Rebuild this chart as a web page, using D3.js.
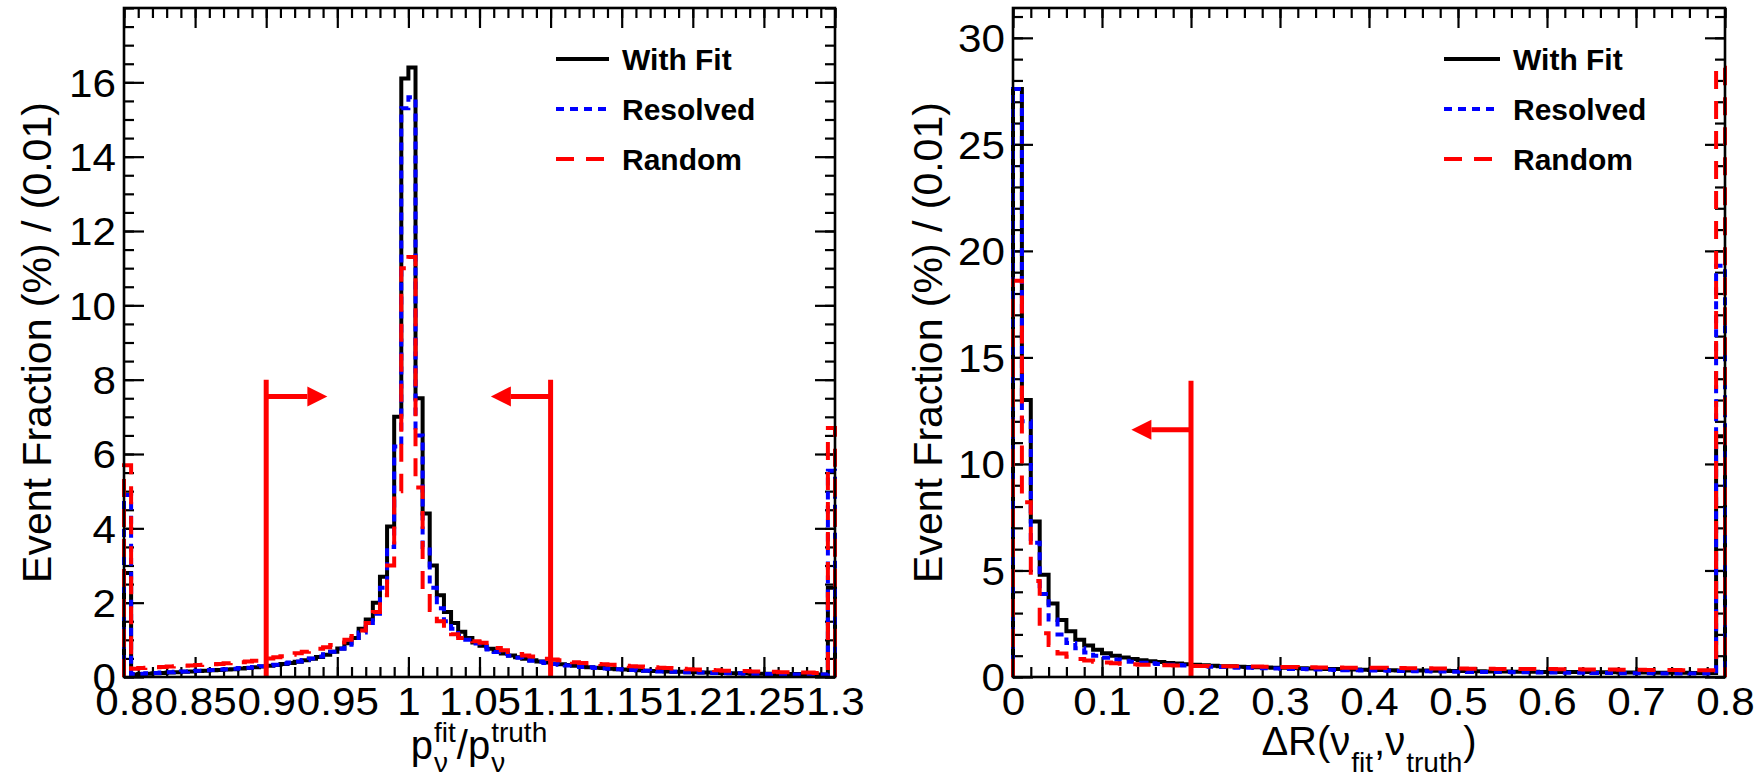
<!DOCTYPE html>
<html><head><meta charset="utf-8">
<script src="https://cdn.jsdelivr.net/npm/d3@7"></script>
<style>body{margin:0;background:#fff} svg{display:block}</style>
</head><body><svg id="c" width="1760" height="780"></svg>
<script>
// ---------------- DATA ----------------
// Left panel: p_fit / p_truth, bins of 0.005 from 0.8 to 1.3
const leftBinLow = 0.8, leftBinWidth = 0.005;
const leftWithFit = [2.8,0.07,0.08,0.09,0.10,0.11,0.12,0.13,0.14,0.15,
 0.16,0.17,0.18,0.19,0.20,0.21,0.23,0.24,0.26,0.28,
 0.30,0.32,0.35,0.38,0.41,0.45,0.49,0.54,0.60,0.68,
 0.77,0.91,1.05,1.30,1.55,2.0,2.7,4.05,7.0,16.1,
 16.4,7.5,4.4,3.0,2.2,1.75,1.45,1.22,1.05,0.93,
 0.84,0.76,0.69,0.63,0.58,0.53,0.49,0.45,0.42,0.39,
 0.36,0.34,0.32,0.30,0.28,0.26,0.25,0.24,0.22,0.21,
 0.20,0.19,0.18,0.17,0.16,0.16,0.15,0.14,0.14,0.13,
 0.13,0.12,0.12,0.11,0.11,0.10,0.10,0.10,0.09,0.09,
 0.09,0.08,0.08,0.08,0.08,0.07,0.07,0.07,0.07,2.4];
const leftResolved = [4.9,0.08,0.09,0.10,0.11,0.12,0.13,0.14,0.15,0.16,
 0.17,0.18,0.19,0.20,0.21,0.22,0.24,0.25,0.27,0.29,
 0.31,0.33,0.36,0.39,0.42,0.46,0.50,0.55,0.61,0.68,
 0.76,0.87,0.98,1.20,1.45,1.70,2.40,3.50,6.20,15.3,
 15.6,6.5,3.5,2.4,1.85,1.5,1.3,1.1,1.0,0.9,
 0.81,0.74,0.67,0.62,0.57,0.52,0.48,0.44,0.41,0.38,
 0.35,0.33,0.31,0.29,0.27,0.26,0.24,0.23,0.22,0.21,
 0.20,0.19,0.18,0.17,0.16,0.15,0.15,0.14,0.13,0.13,
 0.12,0.12,0.11,0.11,0.10,0.10,0.10,0.09,0.09,0.09,
 0.08,0.08,0.08,0.08,0.07,0.07,0.07,0.07,0.07,5.55];
const leftRandom = [5.7,0.22,0.24,0.25,0.26,0.27,0.28,0.29,0.30,0.31,
 0.32,0.33,0.34,0.35,0.37,0.38,0.40,0.42,0.44,0.47,
 0.50,0.53,0.56,0.60,0.64,0.68,0.72,0.76,0.80,0.86,
 0.93,1.0,1.1,1.25,1.45,1.75,2.2,3.0,5.0,11.0,
 11.3,5.1,2.35,1.8,1.5,1.3,1.15,1.05,1.0,0.96,
 0.92,0.85,0.78,0.72,0.67,0.62,0.58,0.55,0.52,0.49,
 0.47,0.45,0.43,0.40,0.38,0.37,0.35,0.34,0.33,0.32,
 0.30,0.29,0.28,0.27,0.26,0.25,0.24,0.23,0.22,0.21,
 0.20,0.19,0.19,0.18,0.17,0.17,0.16,0.16,0.15,0.15,
 0.14,0.14,0.13,0.13,0.12,0.12,0.12,0.11,0.11,6.7];
const leftXTicks = [0.8,0.85,0.9,0.95,1.0,1.05,1.1,1.15,1.2,1.25,1.3];
const leftXLabels = ["0.8","0.85","0.9","0.95","1","1.05","1.1","1.15","1.2","1.25","1.3"];
const leftYTicks = [0,2,4,6,8,10,12,14,16];
const leftYLabels = ["0","2","4","6","8","10","12","14","16"];
const leftCuts = [0.9, 1.1];          // cut positions
const leftCutTop = 8.0, leftArrowY = 7.55, leftArrowTips = [0.943, 1.058];

// Right panel: DeltaR(nu_fit, nu_truth), bins of 0.01 from 0 to 0.8
const rightBinLow = 0, rightBinWidth = 0.01;
const rightWithFit = [27.6,13.0,7.3,4.8,3.45,2.68,2.15,1.75,1.48,1.28,
 1.12,1.0,0.92,0.85,0.79,0.74,0.70,0.66,0.63,0.60,
 0.57,0.55,0.53,0.51,0.50,0.48,0.47,0.46,0.45,0.44,
 0.43,0.42,0.41,0.40,0.39,0.38,0.37,0.36,0.35,0.34,
 0.33,0.33,0.32,0.31,0.31,0.30,0.30,0.29,0.29,0.28,
 0.28,0.27,0.27,0.26,0.26,0.26,0.25,0.25,0.25,0.24,
 0.24,0.24,0.23,0.23,0.23,0.22,0.22,0.22,0.21,0.21,
 0.21,0.21,0.20,0.20,0.20,0.20,0.19,0.19,0.19,11.3];
const rightResolved = [27.6,12.0,6.3,3.9,2.7,2.0,1.6,1.35,1.15,1.0,
 0.90,0.82,0.76,0.71,0.67,0.64,0.61,0.58,0.56,0.54,
 0.52,0.50,0.48,0.47,0.45,0.44,0.43,0.42,0.41,0.40,
 0.39,0.38,0.37,0.36,0.35,0.34,0.33,0.32,0.32,0.31,
 0.30,0.30,0.29,0.28,0.28,0.27,0.27,0.26,0.26,0.25,
 0.25,0.24,0.24,0.24,0.23,0.23,0.22,0.22,0.22,0.21,
 0.21,0.21,0.20,0.20,0.20,0.19,0.19,0.19,0.18,0.18,
 0.18,0.18,0.17,0.17,0.17,0.17,0.16,0.16,0.16,19.3];
const rightRandom = [18.6,8.2,4.5,2.05,1.5,1.1,0.95,0.85,0.78,0.72,
 0.68,0.65,0.62,0.60,0.58,0.57,0.56,0.55,0.54,0.53,
 0.52,0.52,0.51,0.51,0.50,0.50,0.49,0.49,0.48,0.48,
 0.47,0.47,0.46,0.46,0.45,0.45,0.45,0.44,0.44,0.43,
 0.43,0.43,0.42,0.42,0.41,0.41,0.41,0.40,0.40,0.40,
 0.40,0.39,0.39,0.39,0.38,0.38,0.38,0.37,0.37,0.37,
 0.37,0.36,0.36,0.36,0.35,0.35,0.35,0.35,0.34,0.34,
 0.34,0.33,0.33,0.33,0.33,0.32,0.32,0.32,0.32,28.6];
const rightXTicks = [0,0.1,0.2,0.3,0.4,0.5,0.6,0.7,0.8];
const rightXLabels = ["0","0.1","0.2","0.3","0.4","0.5","0.6","0.7","0.8"];
const rightYTicks = [0,5,10,15,20,25,30];
const rightYLabels = ["0","5","10","15","20","25","30"];
const rightCuts = [0.2];
const rightCutTop = 13.9, rightArrowY = 11.6, rightArrowTips = [0.133];

const legendLabels = ["With Fit","Resolved","Random"];
const seriesColors = ["#000000","#0000ff","#ff0000"];
const seriesDash = [null,"8 6","18 12"];

// ---------------- DRAW ----------------
const FONT = '"Liberation Sans", Arial, Helvetica, sans-serif';
const svg = d3.select('#c');
svg.append('rect').attr('width',1760).attr('height',780).attr('fill','#fff');

function drawPanel(c) {
  const g = svg.append('g');
  const x = d3.scaleLinear().domain(c.xDomain).range([c.left, c.right]);
  const y = d3.scaleLinear().domain(c.yDomain).range([c.bottom, c.top]);

  // minor ticks (and top/right majors)
  const axes = [
    {ax: d3.axisBottom(x), tr: `translate(0,${c.bottom})`, vals: c.xMinor, size: -10},
    {ax: d3.axisTop(x), tr: `translate(0,${c.top})`, vals: c.xMinor, size: -10},
    {ax: d3.axisLeft(y), tr: `translate(${c.left},0)`, vals: c.yMinor, size: -10},
    {ax: d3.axisRight(y), tr: `translate(${c.right},0)`, vals: c.yMinor, size: -10},
    {ax: d3.axisTop(x), tr: `translate(0,${c.top})`, vals: c.xMajor, size: -20},
    {ax: d3.axisRight(y), tr: `translate(${c.right},0)`, vals: c.yMajor, size: -20}
  ];
  axes.forEach(a => {
    const ag = g.append('g').attr('transform', a.tr)
      .call(a.ax.tickValues(a.vals).tickSizeInner(a.size).tickSizeOuter(0).tickFormat(''));
    ag.select('.domain').remove();
    ag.selectAll('line').attr('stroke','#000').attr('stroke-width',2.2);
  });
  const sx = 1.11;
  // bottom major with labels
  const bx = g.append('g').attr('transform',`translate(0,${c.bottom})`)
    .call(d3.axisBottom(x).tickValues(c.xMajor).tickSizeInner(-20).tickSizeOuter(0)
      .tickFormat((d,i)=>c.xLabels[i]));
  bx.select('.domain').remove();
  bx.attr('font-family', FONT).attr('font-size', 38);
  bx.selectAll('line').attr('stroke','#000').attr('stroke-width',2.2);
  bx.selectAll('text').attr('y', 38).attr('dy', null).attr('fill','#000')
    .attr('transform', `scale(${sx},1)`);
  // left major with labels
  const ly = g.append('g').attr('transform',`translate(${c.left},0)`)
    .call(d3.axisLeft(y).tickValues(c.yMajor).tickSizeInner(-20).tickSizeOuter(0)
      .tickFormat((d,i)=>c.yLabels[i]));
  ly.select('.domain').remove();
  ly.attr('font-family', FONT).attr('font-size', 38);
  ly.selectAll('line').attr('stroke','#000').attr('stroke-width',2.2);
  ly.selectAll('text').attr('x', -(c.left - c.yLabelRight)/sx).attr('dy','0.36em').attr('fill','#000')
    .attr('transform', `scale(${sx},1)`);

  // histograms
  const line = d3.line().x(d=>x(d[0])).y(d=>y(d[1]));
  c.series.forEach((vals, k) => {
    const pts = [[c.binLow, 0]];
    vals.forEach((v,i) => {
      const a = c.binLow + i*c.binWidth;
      pts.push([a, v], [a + c.binWidth, v]);
    });
    pts.push([c.binLow + vals.length*c.binWidth, 0]);
    const p = g.append('path').attr('d', line(pts)).attr('fill','none')
      .attr('stroke', seriesColors[k]).attr('stroke-width', 4)
      .attr('stroke-linejoin','miter');
    if (seriesDash[k]) p.attr('stroke-dasharray', seriesDash[k]);
  });

  // cut lines with arrows
  c.cuts.forEach((cv, i) => {
    const xc = x(cv), tip = x(c.arrowTips[i]), ya = y(c.arrowY);
    g.append('line').attr('x1',xc).attr('x2',xc).attr('y1',y(0)).attr('y2',y(c.cutTop))
      .attr('stroke','#ff0000').attr('stroke-width',5);
    const dir = tip > xc ? 1 : -1, hl = 20, hw = 10;
    g.append('line').attr('x1',xc).attr('x2',tip - dir*hl).attr('y1',ya).attr('y2',ya)
      .attr('stroke','#ff0000').attr('stroke-width',5);
    g.append('path').attr('d', `M${tip},${ya}L${tip-dir*hl},${ya-hw}L${tip-dir*hl},${ya+hw}Z`)
      .attr('fill','#ff0000');
  });

  // frame
  g.append('rect').attr('x',c.left).attr('y',c.top).attr('width',c.right-c.left)
    .attr('height',c.bottom-c.top).attr('fill','none').attr('stroke','#000').attr('stroke-width',2.6);

  // legend
  legendLabels.forEach((lab, k) => {
    const yy = c.legendY[k];
    const l = g.append('line').attr('x1',c.legendX0).attr('x2',c.legendX1).attr('y1',yy).attr('y2',yy)
      .attr('stroke',seriesColors[k]).attr('stroke-width',4);
    if (seriesDash[k]) l.attr('stroke-dasharray', seriesDash[k]);
    g.append('text').attr('x',c.legendTextX).attr('y',yy+11).attr('font-family',FONT)
      .attr('font-weight','bold').attr('font-size',30).attr('fill','#000').text(lab);
  });

  // y title
  g.append('text').attr('transform',`translate(${c.yTitleX},${(c.top+c.bottom)/2}) rotate(-90)`)
    .attr('text-anchor','middle').attr('font-family',FONT).attr('font-size',41).attr('fill','#000')
    .text('Event Fraction (%) / (0.01)');

  // x title (rich text)
  rich(g, (c.left+c.right)/2, c.xTitleBaseline, c.xTitle, 40, 28, c.subDy, c.supDy);
}

function rich(parent, cx, baseline, pieces, size, sub, subDy, supDy) {
  const g = parent.append('g').attr('font-family', FONT).attr('fill','#000');
  let cur = 0;
  pieces.forEach(p => {
    if (p.t) {
      const t = g.append('text').attr('x',cur).attr('y',0).attr('font-size',size).text(p.t);
      cur += t.node().getComputedTextLength();
    } else {
      let w = 0;
      if (p.sup) {
        const t = g.append('text').attr('x',cur+1).attr('y',supDy).attr('font-size',sub).text(p.sup);
        w = Math.max(w, t.node().getComputedTextLength());
      }
      if (p.sub) {
        const t = g.append('text').attr('x',cur+1).attr('y',subDy).attr('font-size',sub).text(p.sub);
        w = Math.max(w, t.node().getComputedTextLength());
      }
      cur += w + 2;
    }
  });
  g.attr('transform', `translate(${cx - cur/2},${baseline})`);
}

drawPanel({
  left:124, right:835, top:8, bottom:677,
  xDomain:[0.8,1.3], yDomain:[0,18.0],
  binLow:leftBinLow, binWidth:leftBinWidth,
  series:[leftWithFit, leftResolved, leftRandom],
  xMajor:leftXTicks, xLabels:leftXLabels, xMinor:d3.range(0,51).map(i=>0.8+i*0.01),
  yMajor:leftYTicks, yLabels:leftYLabels, yMinor:d3.range(0,37).map(i=>i*0.5),
  yLabelRight:116,
  cuts:leftCuts, cutTop:leftCutTop, arrowY:leftArrowY, arrowTips:leftArrowTips,
  legendX0:556, legendX1:609, legendTextX:622, legendY:[59,109,159],
  yTitleX:51,
  xTitleBaseline:759, subDy:13, supDy:-17,
  xTitle:[{t:'p'},{sup:'fit',sub:'ν'},{t:'/'},{t:'p'},{sup:'truth',sub:'ν'}]
});

drawPanel({
  left:1013, right:1725, top:8, bottom:677,
  xDomain:[0,0.8], yDomain:[0,31.4],
  binLow:rightBinLow, binWidth:rightBinWidth,
  series:[rightWithFit, rightResolved, rightRandom],
  xMajor:rightXTicks, xLabels:rightXLabels, xMinor:d3.range(0,41).map(i=>i*0.02),
  yMajor:rightYTicks, yLabels:rightYLabels, yMinor:d3.range(0,32).map(i=>i),
  yLabelRight:1005,
  cuts:rightCuts, cutTop:rightCutTop, arrowY:rightArrowY, arrowTips:rightArrowTips,
  legendX0:1444, legendX1:1500, legendTextX:1513, legendY:[59,109,159],
  yTitleX:942,
  xTitleBaseline:755, subDy:17, supDy:-17,
  xTitle:[{t:'ΔR(ν'},{sub:'fit'},{t:',ν'},{sub:'truth'},{t:')'}]
});
</script></body></html>
